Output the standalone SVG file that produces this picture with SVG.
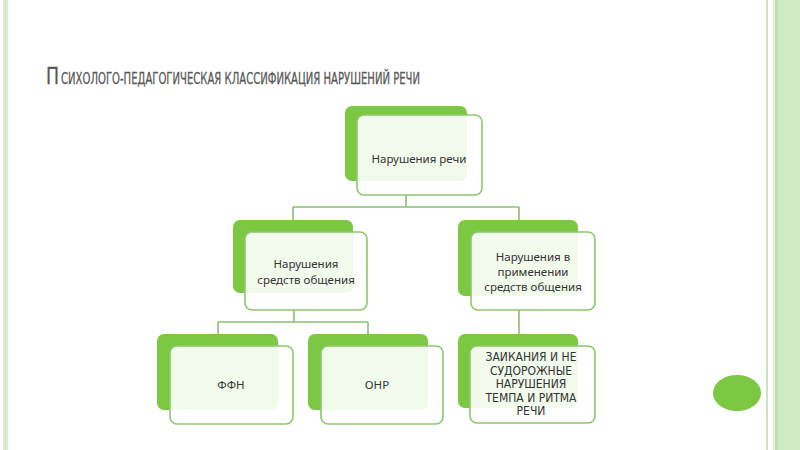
<svg xmlns="http://www.w3.org/2000/svg" width="800" height="450" viewBox="0 0 800 450">
<defs>
<style>
.back{fill:#7cc843}
.front{fill:#ffffff;fill-opacity:0.9;stroke:#8dc86c;stroke-width:1.6}
.lbl{font-family:"Noto Sans","Open Sans",sans-serif;font-size:11.5px;fill:#333333;text-anchor:middle}
.cap{font-family:"DejaVu Sans Condensed","DejaVu Sans",sans-serif;font-size:12px;fill:#333333;text-anchor:middle}
.conn{fill:none;stroke:#8dc06f;stroke-width:1.6}
.ttl{font-family:"DejaVu Sans Condensed","DejaVu Sans",sans-serif;fill:#595959;stroke:#595959;stroke-width:0.3}
</style>
</defs>
<rect x="0" y="0" width="800" height="450" fill="#ffffff"/>
<g id="frame">
<rect x="3" y="0" width="5" height="450" fill="#dcefd3"/>
<line x1="5.5" y1="0" x2="5.5" y2="450" stroke="#c6e5b8" stroke-width="1.5"/>
<line x1="767" y1="0" x2="767" y2="450" stroke="#c9e6bc" stroke-width="2"/>
<rect x="773" y="0" width="27" height="450" fill="#cfeac3"/>
<rect x="775" y="0" width="3" height="450" fill="#bfe2b0"/>
<rect x="773" y="0" width="2" height="450" fill="#e2f2da"/>
</g>
<g id="title">
<text class="ttl" x="46" y="84" font-size="23.5" textLength="13" lengthAdjust="spacingAndGlyphs">П</text>
<text class="ttl" x="61" y="84" font-size="16.5" textLength="359" lengthAdjust="spacingAndGlyphs">СИХОЛОГО-ПЕДАГОГИЧЕСКАЯ КЛАССИФИКАЦИЯ НАРУШЕНИЙ РЕЧИ</text>
</g>
<g id="connectors">
<path class="conn" d="M406 195V207M293 207H519M293 207V220M519 207V220"/>
<path class="conn" d="M294 310V322M218 322H368M218 322V334M368 322V334"/>
<path class="conn" d="M519 310V334"/>
</g>
<g id="node-root">
<rect class="back" x="345" y="106" width="122" height="75" rx="7"/>
<rect class="front" x="357" y="115" width="125" height="80" rx="7"/>
<text class="lbl" x="419" y="163">Нарушения речи</text>
</g>
<g id="node-means">
<rect class="back" x="233" y="220" width="120" height="73" rx="7"/>
<rect class="front" x="245" y="232" width="122" height="78" rx="7"/>
<text class="lbl" x="306" y="268">Нарушения</text>
<text class="lbl" x="306" y="284">средств общения</text>
</g>
<g id="node-use">
<rect class="back" x="458" y="220" width="120" height="76" rx="7"/>
<rect class="front" x="471" y="232" width="124" height="78" rx="7"/>
<text class="lbl" x="533" y="261">Нарушения в</text>
<text class="lbl" x="533" y="276">применении</text>
<text class="lbl" x="533" y="291">средств общения</text>
</g>
<g id="node-ffn">
<rect class="back" x="157" y="334" width="121" height="76" rx="7"/>
<rect class="front" x="170" y="346" width="123" height="78" rx="7"/>
<text class="lbl" x="231" y="389">ФФН</text>
</g>
<g id="node-onr">
<rect class="back" x="308" y="334" width="120" height="76" rx="7"/>
<rect class="front" x="321" y="346" width="122" height="78" rx="7"/>
<text class="lbl" x="377" y="389">ОНР</text>
</g>
<g id="node-stutter">
<rect class="back" x="458" y="334" width="120" height="74" rx="7"/>
<rect class="front" x="470" y="346" width="125" height="77" rx="7"/>
<text class="cap" x="531" y="361">ЗАИКАНИЯ И НЕ</text>
<text class="cap" x="531" y="375">СУДОРОЖНЫЕ</text>
<text class="cap" x="531" y="388">НАРУШЕНИЯ</text>
<text class="cap" x="531" y="402">ТЕМПА И РИТМА</text>
<text class="cap" x="531" y="415">РЕЧИ</text>
</g>
<ellipse cx="737" cy="393" rx="24" ry="18" fill="#7cc843"/>
</svg>
